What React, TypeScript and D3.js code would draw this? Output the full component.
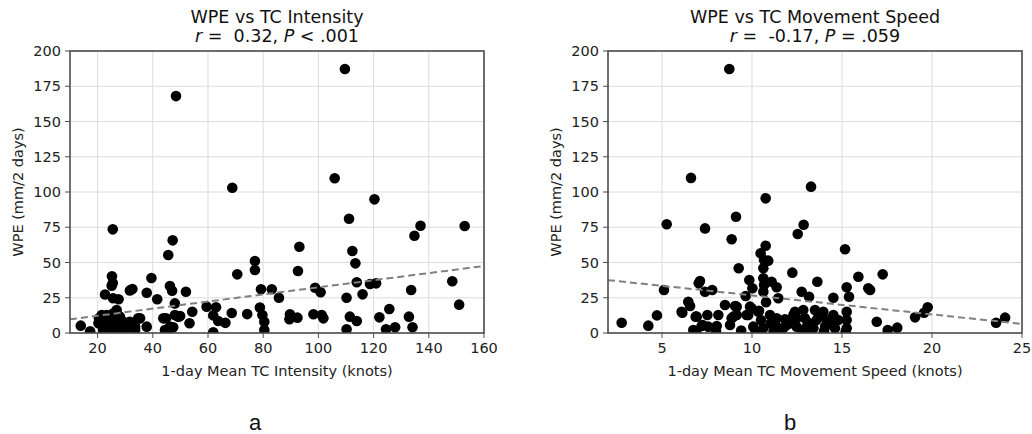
import React from "react";
import * as d3 from "d3";

// ---------- Data ----------
const intensityX: number[] = [
  13.9, 17.3, 25.5, 25.2, 25.5, 25.1, 22.7, 25.6, 27.6, 31.7, 32.6, 37.8, 39.5, 41.6, 48.4, 45.6, 47.2, 46.2, 47.0, 48.0,
  52.0, 54.3, 53.3, 49.9, 44.8, 48.0, 47.4, 45.0, 37.8, 35.4, 33.6, 59.5, 62.9, 61.9, 61.9, 63.7, 66.3, 68.8, 70.6, 68.6,
  74.2, 21.5, 20.3, 23.3, 25.7, 26.9, 28.1, 29.3, 24.5, 26.9, 30.5, 31.7, 34.7, 22.0, 25.7, 28.7, 43.8, 46.2, 44.4, 33.6,
  21.5, 23.3, 77.0, 77.0, 79.2, 83.1, 85.7, 49.2, 78.8, 79.7, 80.4, 80.4, 109.6, 105.9, 120.3, 111.1, 93.1, 112.3, 113.4, 92.6,
  137.0, 134.8, 153.0, 98.8, 100.8, 110.2, 113.9, 116.0, 118.7, 120.9, 133.6, 148.5, 151.0, 89.7, 89.5, 92.4, 98.2, 101.2, 101.8, 111.4,
  113.9, 110.2, 122.1, 125.7, 124.5, 127.8, 132.8, 134.1, 27.5, 24.0, 29.5, 26.0, 20.5, 23.0, 27.0, 24.8, 30.0, 22.5,
];
const intensityWPE: number[] = [
  5.2, 1.2, 73.5, 40.3, 35.5, 33.5, 27.3, 24.6, 23.9, 30.2, 31.2, 28.5, 39.0, 23.9, 168.0, 55.3, 65.7, 33.3, 30.0, 21.0,
  29.3, 15.1, 6.9, 12.0, 10.4, 12.8, 4.0, 0.5, 4.5, 10.4, 4.5, 18.7, 18.3, 12.5, 0.5, 8.5, 7.2, 103.0, 41.6, 14.2,
  13.4, 12.8, 6.9, 9.2, 14.0, 16.3, 11.6, 8.0, 4.5, 4.5, 4.5, 8.0, 10.4, 2.1, 1.4, 2.1, 10.4, 4.5, 2.1, 2.1,
  5.7, 12.8, 51.0, 44.7, 31.0, 31.0, 25.0, 11.6, 18.0, 12.8, 8.0, 2.1, 187.2, 109.7, 94.8, 81.0, 61.2, 58.2, 49.4, 44.0,
  76.1, 69.0, 75.9, 32.1, 28.9, 25.0, 36.0, 27.4, 34.8, 35.2, 30.5, 36.7, 20.1, 13.3, 9.7, 10.9, 13.3, 12.8, 10.4, 11.6,
  8.5, 2.6, 11.1, 17.0, 2.6, 4.0, 11.6, 4.0, 6.0, 7.5, 5.0, 10.0, 10.5, 0.8, 13.0, 11.5, 1.5, 6.5,
];

const speedX: number[] = [
  2.76, 4.24, 4.72, 5.11, 5.26, 6.61, 7.39, 7.11, 7.04, 7.39, 7.79, 8.74, 8.87, 9.11, 9.26, 6.13, 6.46, 6.56, 6.87, 6.74,
  7.52, 7.26, 7.57, 8.13, 8.04, 8.5, 8.78, 8.96, 9.15, 9.65, 9.85, 10.02, 9.89, 9.79, 10.07, 10.39, 10.76, 10.76, 10.48, 10.67,
  10.9, 10.63, 10.63, 10.67, 10.63, 10.78, 12.24, 12.54, 12.87, 15.17, 13.63, 12.76, 13.17, 14.52, 15.26, 15.39, 15.91, 16.46, 16.56, 16.93,
  11.09, 11.37, 11.46, 6.09, 6.93, 9.06, 9.15, 8.87, 7.2, 9.7, 9.98, 10.35, 10.63, 11.0, 11.04, 11.37, 11.37, 11.83, 11.93, 11.74,
  12.39, 12.85, 12.48, 12.94, 13.04, 12.48, 13.5, 13.96, 13.59, 14.15, 14.06, 14.52, 14.79, 15.26, 15.26, 15.26, 14.61, 13.41, 13.28, 17.26,
  17.54, 18.07, 19.06, 19.56, 19.76, 23.56, 24.06, 11.2, 12.8, 14.0, 10.2, 15.2, 13.7, 12.1, 10.5, 11.6, 14.3, 13.2, 12.3, 9.4,
  8.0, 6.9, 13.1,
];
const speedWPE: number[] = [
  7.3, 5.2, 12.5, 30.5, 77.1, 110.0, 74.2, 36.9, 35.2, 29.3, 30.5, 187.2, 66.5, 82.5, 45.9, 14.4, 22.2, 19.1, 11.6, 2.1,
  12.8, 5.7, 4.5, 12.8, 5.0, 19.9, 5.7, 11.6, 18.7, 26.2, 37.6, 31.7, 18.7, 12.8, 4.5, 15.8, 95.5, 61.9, 56.5, 51.8,
  51.3, 45.9, 38.8, 34.0, 29.3, 21.8, 42.8, 70.2, 76.8, 59.4, 36.4, 29.3, 25.7, 25.0, 32.4, 25.7, 39.9, 31.7, 30.5, 8.0,
  36.4, 32.4, 24.6, 15.1, 11.6, 19.1, 12.8, 10.4, 5.0, 12.8, 17.5, 15.1, 3.3, 12.8, 6.9, 10.4, 4.5, 9.7, 5.7, 3.3,
  15.1, 16.3, 10.4, 10.4, 4.5, 4.5, 16.3, 15.1, 9.2, 9.2, 4.5, 12.8, 9.2, 15.1, 9.2, 3.3, 3.3, 3.3, 103.8, 41.6,
  2.1, 3.8, 11.1, 14.4, 18.2, 7.3, 10.9, 1.5, 1.5, 1.2, 1.0, 0.8, 12.0, 7.0, 9.0, 0.8, 6.5, 6.8, 12.8, 1.8,
  1.5, 0.5, 0.6,
];

// regression lines: [intercept, slope]
const intensityFit: [number, number] = [7.2, 0.252];
const speedFit: [number, number] = [40.2, -1.35];

const intensityTicks: number[] = [20, 40, 60, 80, 100, 120, 140, 160];
const speedTicks: number[] = [5, 10, 15, 20, 25];
const wpeTicks: number[] = [0, 25, 50, 75, 100, 125, 150, 175, 200];

type PanelProps = {
  id: string;
  left: number;
  xs: number[];
  ys: number[];
  xDomain: [number, number];
  xTicks: number[];
  fit: [number, number];
  title: string;
  rText: string;
  pText: string;
  xLabel: string;
  letter: string;
  letterX: number;
};

const FONT = "DejaVu Sans, sans-serif";
const TOP = 51;
const BOTTOM = 333;
const W = 414;

function Panel(p: PanelProps) {
  const x = d3.scaleLinear().domain(p.xDomain).range([p.left, p.left + W]);
  const y = d3.scaleLinear().domain([0, 200]).range([BOTTOM, TOP]);
  const cx = p.left + W / 2;
  const fitLine = d3
    .line<number>()
    .x((d) => x(d))
    .y((d) => y(p.fit[0] + p.fit[1] * d));
  const clipId = `clip-${p.id}`;
  return (
    <g>
      <defs>
        <clipPath id={clipId}>
          <rect x={p.left} y={TOP} width={W} height={BOTTOM - TOP} />
        </clipPath>
      </defs>
      {/* grid */}
      {p.xTicks.map((t) => (
        <line key={"gx" + t} x1={x(t)} x2={x(t)} y1={TOP} y2={BOTTOM} stroke="#dcdcdc" strokeWidth={1} />
      ))}
      {wpeTicks.map((t) => (
        <line key={"gy" + t} x1={p.left} x2={p.left + W} y1={y(t)} y2={y(t)} stroke="#dcdcdc" strokeWidth={1} />
      ))}
      {/* points */}
      <g clipPath={`url(#${clipId})`}>
        {p.xs.map((v, i) => (
          <circle key={i} cx={x(v)} cy={y(p.ys[i])} r={5.3} fill="#000" />
        ))}
        <path
          d={fitLine(p.xDomain) || ""}
          fill="none"
          stroke="#808080"
          strokeWidth={2}
          strokeDasharray="7,4"
        />
      </g>
      {/* spines */}
      <rect x={p.left} y={TOP} width={W} height={BOTTOM - TOP} fill="none" stroke="#4d4d4d" strokeWidth={1.6} />
      {/* x ticks */}
      {p.xTicks.map((t) => (
        <g key={"xt" + t}>
          <line x1={x(t)} x2={x(t)} y1={BOTTOM} y2={BOTTOM + 5} stroke="#4d4d4d" strokeWidth={1} />
          <text x={x(t)} y={BOTTOM + 20} textAnchor="middle" fontFamily={FONT} fontSize={14.5} fill="#222">
            {t}
          </text>
        </g>
      ))}
      {/* y ticks */}
      {wpeTicks.map((t) => (
        <g key={"yt" + t}>
          <line x1={p.left - 5} x2={p.left} y1={y(t)} y2={y(t)} stroke="#4d4d4d" strokeWidth={1} />
          <text x={p.left - 9} y={y(t) + 5} textAnchor="end" fontFamily={FONT} fontSize={14.5} fill="#222">
            {t}
          </text>
        </g>
      ))}
      {/* labels */}
      <text x={cx} y={BOTTOM + 43} textAnchor="middle" fontFamily={FONT} fontSize={14.5} fill="#222">
        {p.xLabel}
      </text>
      <text
        transform={`translate(${p.left - 47},${(TOP + BOTTOM) / 2}) rotate(-90)`}
        textAnchor="middle"
        fontFamily={FONT}
        fontSize={14.5}
        fill="#222"
      >
        WPE (mm/2 days)
      </text>
      <text x={cx} y={23} textAnchor="middle" fontFamily={FONT} fontSize={17.5} fill="#111">
        {p.title}
      </text>
      <text
        x={cx}
        y={42}
        textAnchor="middle"
        fontFamily={FONT}
        fontSize={17.5}
        fill="#111"
        style={{ whiteSpace: "pre" }}
      >
        <tspan fontStyle="italic">r</tspan>
        <tspan>{" =  " + p.rText + ", "}</tspan>
        <tspan fontStyle="italic">P</tspan>
        <tspan>{" " + p.pText}</tspan>
      </text>
      <text x={p.letterX} y={430} textAnchor="middle" fontFamily="Liberation Sans, Arial, sans-serif" fontSize={22} fill="#111">
        {p.letter}
      </text>
    </g>
  );
}

export default function App() {
  return (
    <svg
      width={1032}
      height={434}
      style={{ position: "absolute", left: 0, top: 0, background: "#fff" }}
    >
      <rect width={1032} height={434} fill="#fff" />
      <Panel
        id="a"
        left={70}
        xs={intensityX}
        ys={intensityWPE}
        xDomain={[10, 160]}
        xTicks={intensityTicks}
        fit={intensityFit}
        title="WPE vs TC Intensity"
        rText="0.32"
        pText="< .001"
        xLabel="1-day Mean TC Intensity (knots)"
        letter="a"
        letterX={255}
      />
      <Panel
        id="b"
        left={608}
        xs={speedX}
        ys={speedWPE}
        xDomain={[2, 25]}
        xTicks={speedTicks}
        fit={speedFit}
        title="WPE vs TC Movement Speed"
        rText="-0.17"
        pText="= .059"
        xLabel="1-day Mean TC Movement Speed (knots)"
        letter="b"
        letterX={790}
      />
    </svg>
  );
}
